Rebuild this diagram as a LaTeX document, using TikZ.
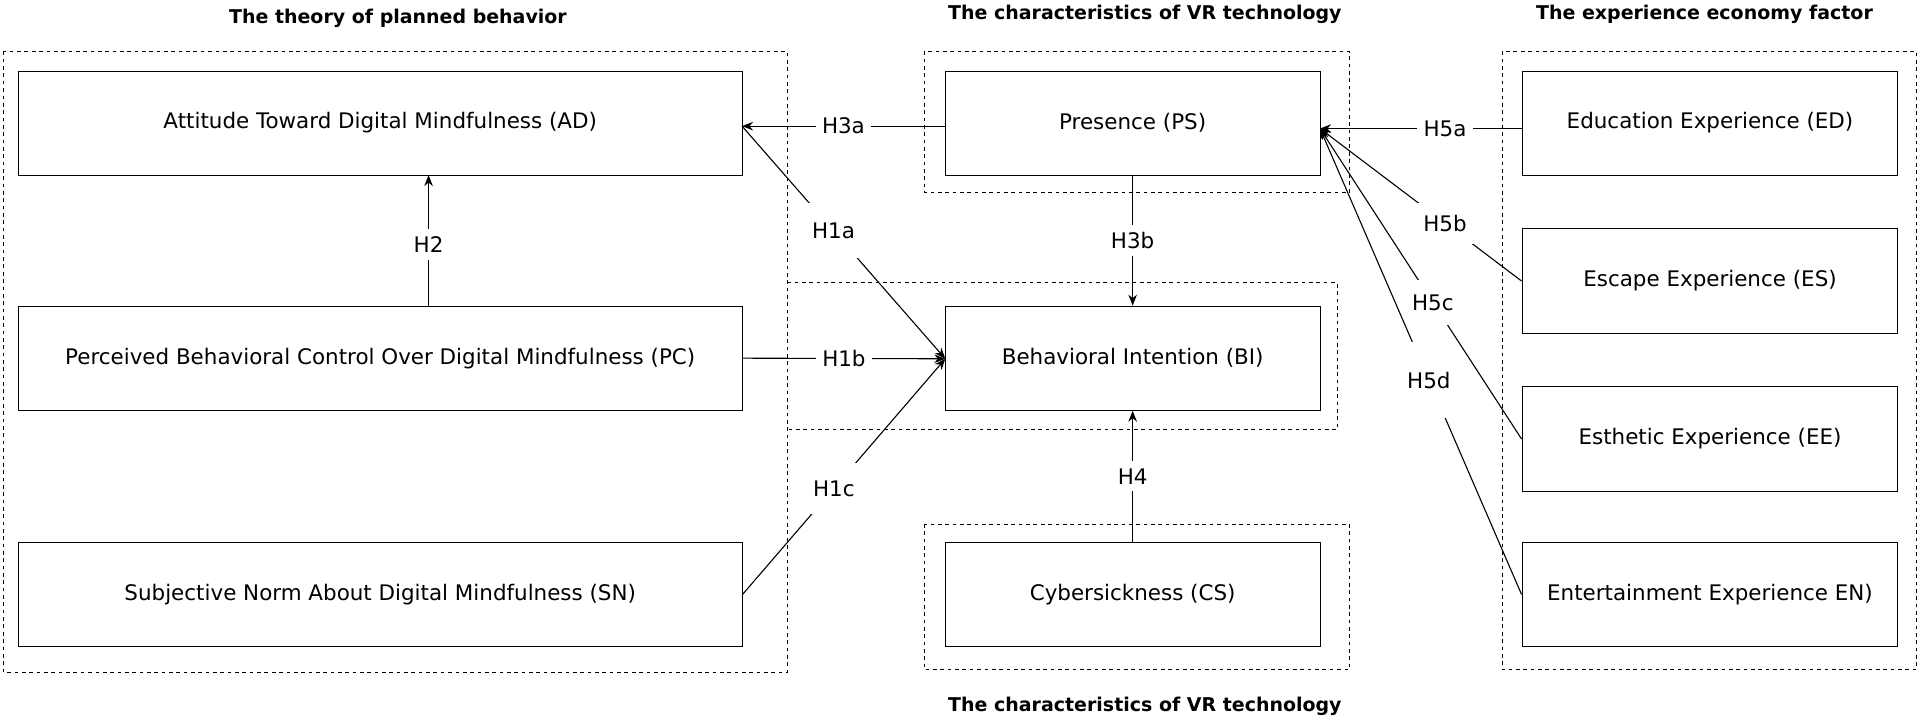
\documentclass[tikz,border=0pt]{standalone}
\usepackage{fontspec}
\setmainfont{DejaVu Sans}
\usetikzlibrary{arrows.meta}
\begin{document}
\begin{tikzpicture}[x=1pt,y=-1pt,
  box/.style={draw,line width=0.8pt,inner sep=0pt,font=\fontsize{17.5}{20}\selectfont},
  grp/.style={draw,dashed,line width=0.9pt},
  ttl/.style={font=\fontsize{15.5}{18}\selectfont\bfseries},
  lab/.style={fill=white,inner xsep=5pt,inner ysep=6pt,font=\fontsize{17.5}{20}\selectfont},
  arr/.style={line width=0.9pt,-{Stealth[length=9pt,width=7pt]}}]
\useasboundingbox (0,0) rectangle (1568,589);
\draw[grp] (3,42) rectangle (643,549);
\draw[grp] (755,42) rectangle (1102,157);
\draw[grp] (643,231) -- (1092,231) -- (1092,351) -- (643,351);
\draw[grp] (755,428) rectangle (1102,547);
\draw[grp] (1227,42) rectangle (1565,547);
\node[ttl] (t1) at (325,15) {The theory of planned behavior};
\node[ttl] (t2) at (935,12) {The characteristics of VR technology};
\node[ttl] (t3) at (1392,12) {The experience economy factor};
\node[ttl] (t4) at (935,577) {The characteristics of VR technology};
\node[box,minimum width=591,minimum height=85] (AD) at (310.5,100.5) {Attitude Toward Digital Mindfulness (AD)};
\node[box,minimum width=591,minimum height=85] (PC) at (310.5,292.5) {Perceived Behavioral Control Over Digital Mindfulness (PC)};
\node[box,minimum width=591,minimum height=85] (SN) at (310.5,485.5) {Subjective Norm About Digital Mindfulness (SN)};
\node[box,minimum width=306,minimum height=85] (PS) at (925,100.5) {Presence (PS)};
\node[box,minimum width=306,minimum height=85] (BI) at (925,292.5) {Behavioral Intention (BI)};
\node[box,minimum width=306,minimum height=85] (CS) at (925,485.5) {Cybersickness (CS)};
\node[box,minimum width=307,minimum height=85] (ED) at (1396.5,100.5) {Education Experience (ED)};
\node[box,minimum width=307,minimum height=85] (ES) at (1396.5,229.5) {Escape Experience (ES)};
\node[box,minimum width=307,minimum height=85] (EE) at (1396.5,358.5) {Esthetic Experience (EE)};
\node[box,minimum width=307,minimum height=85] (EN) at (1396.5,485.5) {Entertainment Experience EN)};
\coordinate (ADr) at (606,103);
\coordinate (BIl) at (772,293);
\coordinate (PSr) at (1078,105);
\coordinate (h2b) at (350,250);
\coordinate (h2t) at (350,143);
\draw[arr] (PS.west|-ADr) -- node[lab]{H3a} (ADr);
\draw[arr] (h2b) -- node[lab,pos=0.47,inner xsep=12pt]{H2} (h2t);
\draw[arr] (ADr) -- node[lab,pos=0.45,inner ysep=16pt]{H1a} (BIl);
\draw[arr] (PC.east) -- node[lab]{H1b} (BIl);
\draw[arr] (SN.east) -- node[lab,pos=0.45,inner ysep=14pt]{H1c} (BIl);
\draw[arr] (PS.south) -- node[lab]{H3b} (BI.north);
\draw[arr] (CS.north) -- node[lab]{H4} (BI.south);
\draw[arr] (ED.west|-PSr) -- node[lab,pos=0.38]{H5a} (PSr);
\draw[arr] (ES.west) -- node[lab,pos=0.38,inner ysep=10pt]{H5b} (PSr);
\draw[arr] (EE.west) -- node[lab,pos=0.44,inner ysep=12pt]{H5c} (PSr);
\draw[arr] (EN.west) -- node[lab,pos=0.46,inner ysep=24pt]{H5d} (PSr);
\end{tikzpicture}
\end{document}
